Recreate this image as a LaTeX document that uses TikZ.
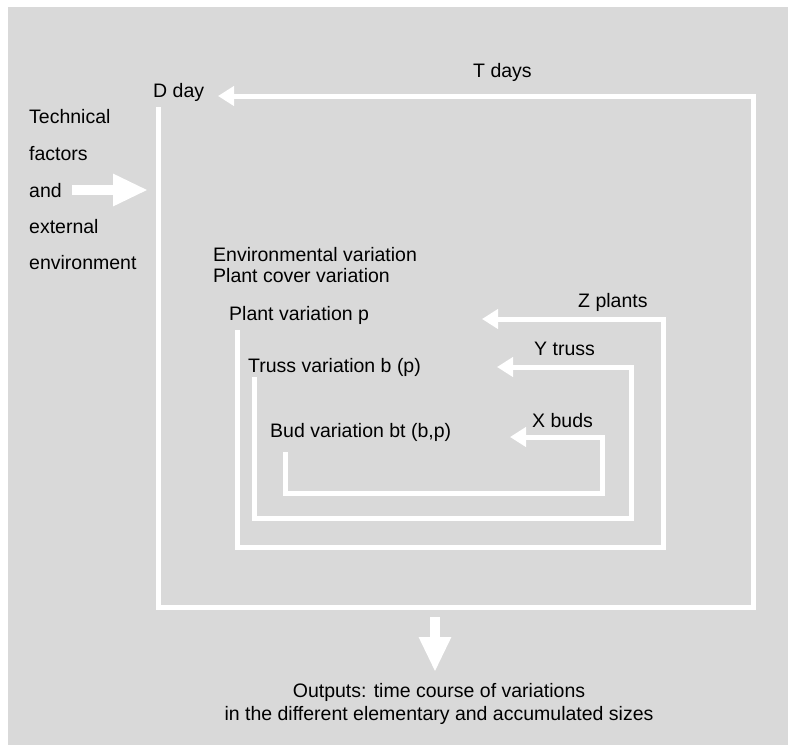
\documentclass[tikz,border=0pt]{standalone}
\usepackage{fontspec}
\setmainfont{Liberation Sans}
\usetikzlibrary{arrows.meta,positioning}
\definecolor{paper}{gray}{0.85}
\tikzset{
    feedback/.style={
    draw=white,line width=5pt,line join=miter,-{Triangle[length=16pt,width=19pt]}
    },
    bigarrow/.style={
    draw=white,line width=10pt,-{Triangle[length=35pt,width=30pt]}
    },
    lbl/.style={
    anchor=base west,inner sep=0pt,font=\fontsize{19.5}{21}\selectfont
    },
}
\begin{document}
\begin{tikzpicture}[x=1pt,y=-1pt]
   \useasboundingbox (0,0) rectangle (788,745);
   \fill[paper] (8,7) rectangle (788,745);

   %labels
   \node[lbl] (tdays) at (473,77) {T days};
   \node[lbl] (dday) at (153,97) {D day};
   \node[lbl] (tech) at (29,123) {Technical};
   \node[lbl] (fact) at (29,160) {factors};
   \node[lbl] (and) at (29,197) {and};
   \node[lbl] (ext) at (29,233) {external};
   \node[lbl] (env) at (29,269) {environment};
   \node[lbl,align=left] (envvar) at (213,282) {Environmental variation\\Plant cover variation};
   \node[lbl] (plantvar) at (229,320) {Plant variation p};
   \node[lbl] (trussvar) at (248,372) {Truss variation b (p)};
   \node[lbl] (budvar) at (270,437) {Bud variation bt (b,p)};
   \node[lbl] (zplants) at (578,307) {Z plants};
   \node[lbl] (ytruss) at (534,355) {Y truss};
   \node[lbl] (xbuds) at (532,427) {X buds};
   \node[anchor=base,inner sep=0pt,align=center,font=\fontsize{19.5}{23}\selectfont] (out) at (439,720)
      {Outputs: time course of variations\\in the different elementary and accumulated sizes};

   %day loop
   \coordinate (d0) at (158,107);
   \coordinate (d1) at (158,607);
   \coordinate (d2) at (753,607);
   \coordinate (d3) at (753,96);
   \coordinate (d4) at (218,96);

   %plant loop
   \coordinate (z0) at (237,330);
   \coordinate (z1) at (237,547);
   \coordinate (z2) at (663,547);
   \coordinate (z3) at (663,319);
   \coordinate (z4) at (482,319);

   %truss loop
   \coordinate (y0) at (254,377);
   \coordinate (y1) at (254,518);
   \coordinate (y2) at (631,518);
   \coordinate (y3) at (631,367);
   \coordinate (y4) at (497,367);

   %bud loop
   \coordinate (x0) at (285,452);
   \coordinate (x1) at (285,493);
   \coordinate (x2) at (602,493);
   \coordinate (x3) at (602,437);
   \coordinate (x4) at (510,437);

   %inputs and outputs
   \coordinate (in0) at (72,190);
   \coordinate (in1) at (148,190);
   \coordinate (out0) at (435,617);
   \coordinate (out1) at (435,672);

   \draw[feedback] (d0) -- (d1) -- (d2) -- (d3) -- (d4);
   \draw[feedback] (z0) -- (z1) -- (z2) -- (z3) -- (z4);
   \draw[feedback] (y0) -- (y1) -- (y2) -- (y3) -- (y4);
   \draw[feedback] (x0) -- (x1) -- (x2) -- (x3) -- (x4);
   \draw[bigarrow] (in0) -- (in1);
   \draw[bigarrow] (out0) -- (out1);
\end{tikzpicture}
\end{document}
